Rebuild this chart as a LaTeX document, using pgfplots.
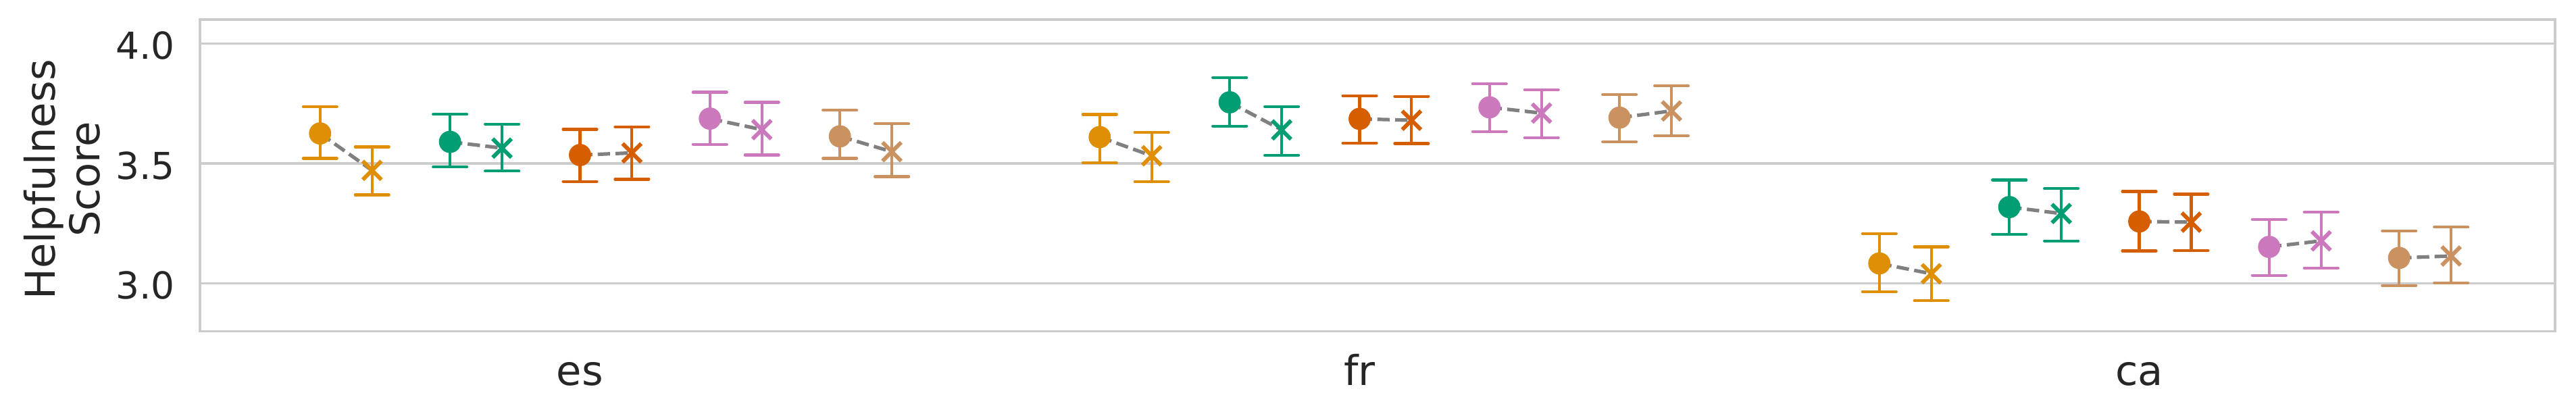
\documentclass[border=0pt]{standalone}
\usepackage{pgfplots}
\pgfplotsset{compat=1.18}
\usepackage{pgfplotstable}
\usepackage{fontspec}
\setmainfont{DejaVu Sans}
\definecolor{cOr}{HTML}{DE8F05}
\definecolor{cGr}{HTML}{029E73}
\definecolor{cRe}{HTML}{D55E00}
\definecolor{cPi}{HTML}{CC78BC}
\definecolor{cTa}{HTML}{CA9161}
\definecolor{gridc}{HTML}{CCCCCC}
\definecolor{txt}{HTML}{262626}
\definecolor{lineg}{HTML}{808080}

% xc yc loc hic : circle marker (mean, lower, upper); xx yx lox hix : cross marker
\pgfplotstableread{
xc yc loc hic xx yx lox hix
-0.3667 3.625 3.521 3.736 -0.3 3.471 3.369 3.569
0.6333 3.610 3.503 3.704 0.7 3.532 3.424 3.630
1.6333 3.083 2.965 3.207 1.7 3.040 2.927 3.152
}\tOr
\pgfplotstableread{
xc yc loc hic xx yx lox hix
-0.2 3.590 3.485 3.705 -0.1333 3.564 3.468 3.664
0.8 3.755 3.656 3.858 0.8667 3.640 3.534 3.737
1.8 3.318 3.205 3.431 1.8667 3.291 3.177 3.395
}\tGr
\pgfplotstableread{
xc yc loc hic xx yx lox hix
-0.0333 3.535 3.425 3.642 0.0333 3.544 3.434 3.653
0.9667 3.686 3.585 3.782 1.0333 3.680 3.583 3.780
1.9667 3.258 3.135 3.383 2.0333 3.255 3.137 3.372
}\tRe
\pgfplotstableread{
xc yc loc hic xx yx lox hix
0.1333 3.687 3.580 3.797 0.2 3.641 3.535 3.755
1.1333 3.734 3.633 3.833 1.2 3.710 3.608 3.808
2.1333 3.152 3.033 3.267 2.2 3.177 3.064 3.296
}\tPi
\pgfplotstableread{
xc yc loc hic xx yx lox hix
0.3 3.613 3.521 3.722 0.3667 3.549 3.445 3.665
1.3 3.691 3.590 3.787 1.3667 3.719 3.615 3.824
2.3 3.106 2.991 3.219 2.3667 3.114 3.002 3.234
}\tTa

\pgfplotsset{
  cplot/.style={only marks, mark=*, mark size=3.75pt, color=#1,
    mark options={draw=none, fill=#1},
    error bars/.cd, y dir=both, y explicit, error mark=|,
    error bar style={line width=1.0pt, #1},
    error mark options={line width=1.0pt, mark size=6pt, line cap=round, #1}},
  xplot/.style={only marks, mark=x, mark size=4.7pt, color=#1,
    mark options={line width=1.4pt, #1},
    error bars/.cd, y dir=both, y explicit, error mark=|,
    error bar style={line width=1.0pt, #1},
    error mark options={line width=1.0pt, mark size=6pt, line cap=round, #1}},
  lplot/.style={lineg, line width=1.25pt, dash pattern=on 4.4pt off 1.9pt,
    quiver={u=\thisrow{xx}-\thisrow{xc}, v=\thisrow{yx}-\thisrow{yc}}},
}

\begin{document}
\begin{tikzpicture}
\useasboundingbox (0,0) rectangle (915.12pt,146.4pt);
\begin{axis}[
  at={(70.97pt,28.68pt)}, anchor=south west,
  scale only axis, width=836.7pt, height=110.76pt,
  xmin=-0.521, xmax=2.5, ymin=2.8, ymax=4.1,
  xtick={-0.0333,0.9667,1.9667}, xticklabels={es,fr,ca},
  ytick={3,3.5,4},
  /pgf/number format/assume math mode=true,
  axis line style={gridc, line width=0.9pt},
  ymajorgrids, grid style={gridc, line width=0.88pt},
  major tick length=0pt, tick style={draw=none},
  xticklabel style={txt, font=\fontsize{14.6}{17}\selectfont, anchor=base, inner sep=0pt, yshift=-19.3pt},
  yticklabel style={txt, font=\fontsize{13.2}{15}\selectfont, anchor=east, inner sep=0pt, xshift=-8.7pt, yshift=-0.8pt,
    /pgf/number format/fixed, /pgf/number format/fixed zerofill, /pgf/number format/precision=1},
  ylabel={Helpfulness\\Score},
  ylabel style={at={(axis description cs:-0.0585,0.487)}, anchor=center, align=center,
    font=\fontsize{14.6}{15.9}\selectfont, txt, inner sep=0pt},
]
\addplot[cplot=cOr] table[x=xc, y=yc, y error plus expr=\thisrow{hic}-\thisrow{yc}, y error minus expr=\thisrow{yc}-\thisrow{loc}] {\tOr};
\addplot[xplot=cOr] table[x=xx, y=yx, y error plus expr=\thisrow{hix}-\thisrow{yx}, y error minus expr=\thisrow{yx}-\thisrow{lox}] {\tOr};
\addplot[cplot=cGr] table[x=xc, y=yc, y error plus expr=\thisrow{hic}-\thisrow{yc}, y error minus expr=\thisrow{yc}-\thisrow{loc}] {\tGr};
\addplot[xplot=cGr] table[x=xx, y=yx, y error plus expr=\thisrow{hix}-\thisrow{yx}, y error minus expr=\thisrow{yx}-\thisrow{lox}] {\tGr};
\addplot[cplot=cRe] table[x=xc, y=yc, y error plus expr=\thisrow{hic}-\thisrow{yc}, y error minus expr=\thisrow{yc}-\thisrow{loc}] {\tRe};
\addplot[xplot=cRe] table[x=xx, y=yx, y error plus expr=\thisrow{hix}-\thisrow{yx}, y error minus expr=\thisrow{yx}-\thisrow{lox}] {\tRe};
\addplot[cplot=cPi] table[x=xc, y=yc, y error plus expr=\thisrow{hic}-\thisrow{yc}, y error minus expr=\thisrow{yc}-\thisrow{loc}] {\tPi};
\addplot[xplot=cPi] table[x=xx, y=yx, y error plus expr=\thisrow{hix}-\thisrow{yx}, y error minus expr=\thisrow{yx}-\thisrow{lox}] {\tPi};
\addplot[cplot=cTa] table[x=xc, y=yc, y error plus expr=\thisrow{hic}-\thisrow{yc}, y error minus expr=\thisrow{yc}-\thisrow{loc}] {\tTa};
\addplot[xplot=cTa] table[x=xx, y=yx, y error plus expr=\thisrow{hix}-\thisrow{yx}, y error minus expr=\thisrow{yx}-\thisrow{lox}] {\tTa};
\addplot[lplot] table[x=xc, y=yc] {\tOr};
\addplot[lplot] table[x=xc, y=yc] {\tGr};
\addplot[lplot] table[x=xc, y=yc] {\tRe};
\addplot[lplot] table[x=xc, y=yc] {\tPi};
\addplot[lplot] table[x=xc, y=yc] {\tTa};
\end{axis}
\end{tikzpicture}
\end{document}
